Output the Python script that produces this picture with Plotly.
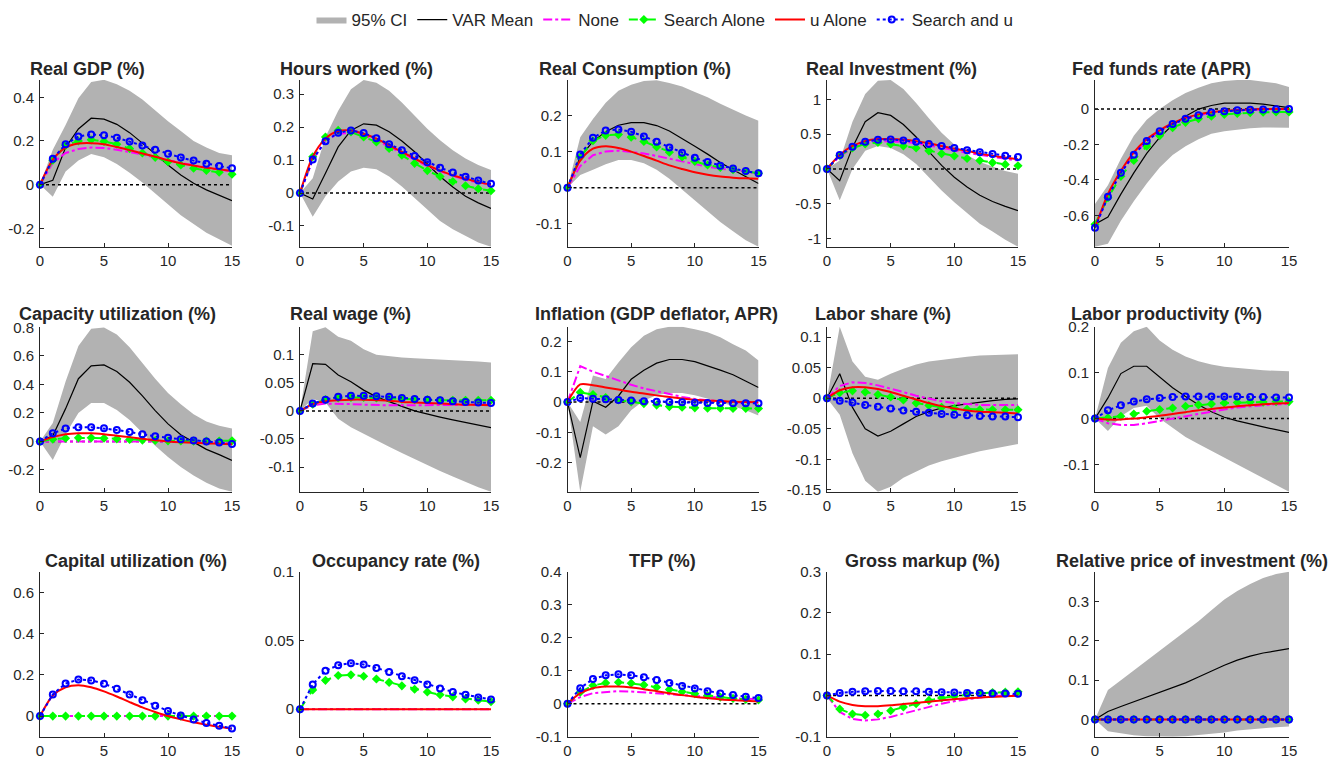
import plotly.graph_objects as go

# ---------------- data ----------------
horizon = [0, 1, 2, 3, 4, 5, 6, 7, 8, 9, 10, 11, 12, 13, 14, 15]
x_ticks = [0, 5, 10, 15]

# Real GDP
gdp_ci_lo = [0, -0.055, 0.06, 0.11, 0.14, 0.125, 0.095, 0.055, 0.01, -0.04, -0.09, -0.14, -0.18, -0.22, -0.25, -0.28]
gdp_ci_hi = [0, 0.16, 0.273, 0.395, 0.47, 0.48, 0.46, 0.43, 0.39, 0.34, 0.29, 0.245, 0.2, 0.17, 0.145, 0.135]
gdp_var = [0, 0.02, 0.17, 0.255, 0.304, 0.30, 0.276, 0.238, 0.19, 0.139, 0.09, 0.044, 0.006, -0.024, -0.05, -0.073]
gdp_none = [0, 0.1, 0.145, 0.163, 0.17, 0.168, 0.16, 0.15, 0.138, 0.125, 0.112, 0.1, 0.088, 0.078, 0.068, 0.06]
gdp_search = [0, 0.112, 0.18, 0.2, 0.205, 0.198, 0.185, 0.165, 0.145, 0.125, 0.105, 0.09, 0.075, 0.065, 0.057, 0.048]
gdp_u = [0, 0.115, 0.17, 0.188, 0.19, 0.185, 0.172, 0.158, 0.143, 0.128, 0.112, 0.098, 0.087, 0.077, 0.07, 0.062]
gdp_both = [0, 0.118, 0.185, 0.22, 0.23, 0.226, 0.215, 0.197, 0.179, 0.16, 0.142, 0.124, 0.11, 0.096, 0.085, 0.075]

# Hours worked
hrs_ci_lo = [0, -0.072, -0.01, 0.035, 0.065, 0.077, 0.072, 0.05, 0.02, -0.015, -0.05, -0.085, -0.11, -0.13, -0.15, -0.163]
hrs_ci_hi = [0, 0.045, 0.17, 0.25, 0.315, 0.343, 0.335, 0.31, 0.275, 0.235, 0.195, 0.16, 0.13, 0.105, 0.085, 0.07]
hrs_var = [0, -0.018, 0.06, 0.14, 0.19, 0.21, 0.206, 0.186, 0.158, 0.125, 0.088, 0.05, 0.018, -0.01, -0.03, -0.047]
hrs_none = [0, 0.1, 0.16, 0.18, 0.182, 0.175, 0.16, 0.14, 0.12, 0.1, 0.082, 0.066, 0.052, 0.04, 0.032, 0.025]
hrs_search = [0, 0.11, 0.17, 0.19, 0.185, 0.17, 0.155, 0.135, 0.115, 0.09, 0.068, 0.05, 0.035, 0.022, 0.013, 0.007]
hrs_u = [0, 0.11, 0.165, 0.188, 0.19, 0.18, 0.165, 0.145, 0.125, 0.105, 0.085, 0.068, 0.054, 0.043, 0.033, 0.025]
hrs_both = [0, 0.102, 0.157, 0.183, 0.19, 0.182, 0.166, 0.148, 0.13, 0.112, 0.093, 0.077, 0.062, 0.049, 0.038, 0.028]

# Real Consumption
con_ci_lo = [0, 0.035, 0.05, 0.065, 0.077, 0.077, 0.068, 0.05, 0.025, -0.005, -0.035, -0.065, -0.095, -0.12, -0.145, -0.163]
con_ci_hi = [0, 0.14, 0.19, 0.235, 0.268, 0.285, 0.295, 0.297, 0.29, 0.28, 0.265, 0.25, 0.232, 0.215, 0.2, 0.185]
con_var = [0, 0.085, 0.128, 0.155, 0.173, 0.18, 0.18, 0.172, 0.157, 0.137, 0.115, 0.093, 0.07, 0.05, 0.03, 0.012]
con_none = [0, 0.06, 0.09, 0.1, 0.103, 0.1, 0.095, 0.088, 0.08, 0.072, 0.065, 0.058, 0.053, 0.048, 0.044, 0.04]
con_search = [0, 0.085, 0.13, 0.145, 0.147, 0.14, 0.128, 0.113, 0.098, 0.085, 0.073, 0.063, 0.056, 0.05, 0.045, 0.04]
con_u = [0, 0.075, 0.108, 0.115, 0.11, 0.1, 0.088, 0.075, 0.062, 0.052, 0.043, 0.036, 0.031, 0.028, 0.026, 0.025]
con_both = [0, 0.092, 0.138, 0.158, 0.161, 0.155, 0.142, 0.127, 0.111, 0.097, 0.083, 0.071, 0.061, 0.053, 0.046, 0.04]

# Real Investment
inv_ci_lo = [0, -0.45, 0.0, 0.26, 0.33, 0.3, 0.21, 0.07, -0.12, -0.31, -0.48, -0.64, -0.79, -0.9, -1.02, -1.12]
inv_ci_hi = [0, 0.12, 0.68, 1.08, 1.27, 1.28, 1.15, 0.95, 0.73, 0.52, 0.35, 0.2, 0.1, 0.03, -0.03, -0.07]
inv_var = [0, -0.17, 0.31, 0.68, 0.81, 0.77, 0.64, 0.46, 0.25, 0.05, -0.12, -0.26, -0.38, -0.47, -0.54, -0.6]
inv_none = [0, 0.18, 0.3, 0.37, 0.4, 0.4, 0.39, 0.37, 0.34, 0.3, 0.27, 0.23, 0.2, 0.17, 0.14, 0.12]
inv_search = [0, 0.19, 0.3, 0.36, 0.38, 0.36, 0.33, 0.3, 0.26, 0.22, 0.185, 0.15, 0.12, 0.09, 0.065, 0.045]
inv_u = [0, 0.2, 0.33, 0.4, 0.43, 0.43, 0.42, 0.4, 0.37, 0.33, 0.29, 0.26, 0.22, 0.19, 0.165, 0.14]
inv_both = [0, 0.2, 0.32, 0.39, 0.42, 0.425, 0.41, 0.39, 0.36, 0.33, 0.3, 0.27, 0.24, 0.215, 0.19, 0.17]

# Fed funds rate
ffr_ci_lo = [-0.777, -0.76, -0.63, -0.52, -0.42, -0.33, -0.26, -0.21, -0.17, -0.14, -0.125, -0.115, -0.108, -0.104, -0.103, -0.105]
ffr_ci_hi = [-0.536, -0.43, -0.28, -0.15, -0.06, 0.0, 0.05, 0.09, 0.12, 0.145, 0.158, 0.164, 0.164, 0.155, 0.145, 0.125]
ffr_var = [-0.65, -0.61, -0.48, -0.36, -0.25, -0.16, -0.09, -0.04, 0.0, 0.02, 0.033, 0.035, 0.033, 0.028, 0.018, 0.008]
ffr_none = [-0.67, -0.49, -0.36, -0.26, -0.18, -0.125, -0.085, -0.055, -0.035, -0.02, -0.012, -0.007, -0.004, -0.002, -0.001, 0]
ffr_search = [-0.65, -0.5, -0.38, -0.29, -0.21, -0.15, -0.105, -0.075, -0.055, -0.04, -0.03, -0.025, -0.02, -0.018, -0.017, -0.016]
ffr_u = [-0.67, -0.48, -0.35, -0.245, -0.17, -0.12, -0.08, -0.05, -0.03, -0.018, -0.01, -0.005, -0.002, 0, 0, 0]
ffr_both = [-0.67, -0.495, -0.36, -0.258, -0.18, -0.125, -0.085, -0.055, -0.035, -0.02, -0.012, -0.007, -0.004, -0.002, -0.001, 0]

# Capacity utilization
cap_ci_lo = [0, -0.13, 0.05, 0.2, 0.27, 0.27, 0.22, 0.15, 0.06, -0.03, -0.11, -0.18, -0.24, -0.29, -0.33, -0.353]
cap_ci_hi = [0, 0.13, 0.42, 0.67, 0.79, 0.8, 0.75, 0.66, 0.55, 0.44, 0.34, 0.26, 0.19, 0.14, 0.11, 0.09]
cap_var = [0, 0.04, 0.23, 0.44, 0.53, 0.537, 0.49, 0.415, 0.32, 0.216, 0.123, 0.047, -0.005, -0.056, -0.093, -0.133]
cap_none = [0, 0, 0, 0, 0, 0, 0, 0, 0, 0, 0, 0, 0, 0, 0, 0]
cap_search = [0, 0.015, 0.022, 0.025, 0.025, 0.022, 0.018, 0.013, 0.009, 0.006, 0.004, 0.003, 0.002, 0.002, 0.003, 0.004]
cap_u = [0, 0.03, 0.05, 0.057, 0.057, 0.05, 0.04, 0.03, 0.018, 0.008, 0.0, -0.006, -0.01, -0.014, -0.017, -0.02]
cap_both = [0, 0.058, 0.09, 0.1, 0.1, 0.092, 0.08, 0.066, 0.05, 0.036, 0.025, 0.015, 0.007, 0.0, -0.008, -0.019]

# Real wage
wag_ci_lo = [0, 0.021, 0.015, -0.014, -0.029, -0.041, -0.053, -0.064, -0.075, -0.086, -0.097, -0.107, -0.117, -0.127, -0.136, -0.144]
wag_ci_hi = [0, 0.142, 0.149, 0.132, 0.125, 0.11, 0.1, 0.097, 0.095, 0.094, 0.093, 0.092, 0.091, 0.09, 0.088, 0.086]
wag_var = [0, 0.084, 0.083, 0.064, 0.052, 0.037, 0.025, 0.016, 0.008, 0.0, -0.006, -0.011, -0.016, -0.021, -0.025, -0.03]
wag_none = [0, 0.01, 0.013, 0.013, 0.012, 0.011, 0.01, 0.01, 0.01, 0.01, 0.01, 0.01, 0.01, 0.01, 0.011, 0.011]
wag_search = [0, 0.012, 0.02, 0.023, 0.024, 0.024, 0.023, 0.022, 0.021, 0.02, 0.02, 0.019, 0.019, 0.019, 0.019, 0.019]
wag_u = [0, 0.012, 0.017, 0.019, 0.02, 0.02, 0.019, 0.018, 0.016, 0.015, 0.014, 0.013, 0.012, 0.011, 0.011, 0.01]
wag_both = [0, 0.013, 0.02, 0.025, 0.027, 0.027, 0.026, 0.025, 0.023, 0.021, 0.02, 0.019, 0.017, 0.016, 0.015, 0.014]

# Inflation
inf_ci_lo = [0, -0.295, -0.08, -0.107, -0.08, -0.027, 0.005, 0.022, 0.03, 0.03, 0.022, 0.011, 0.0, -0.014, -0.027, -0.044]
inf_ci_hi = [0, -0.066, 0.087, 0.076, 0.13, 0.18, 0.218, 0.24, 0.248, 0.248, 0.24, 0.23, 0.213, 0.19, 0.17, 0.137]
inf_var = [0, -0.183, 0.003, -0.017, 0.02, 0.075, 0.105, 0.128, 0.14, 0.14, 0.133, 0.12, 0.105, 0.09, 0.07, 0.048]
inf_none = [0, 0.118, 0.1, 0.085, 0.07, 0.057, 0.045, 0.035, 0.025, 0.017, 0.01, 0.005, 0.002, 0.0, -0.002, -0.003]
inf_search = [0, 0.032, 0.025, 0.015, 0.007, 0.0, -0.005, -0.01, -0.015, -0.017, -0.019, -0.02, -0.02, -0.021, -0.021, -0.021]
inf_u = [0, 0.058, 0.055, 0.048, 0.041, 0.034, 0.028, 0.022, 0.017, 0.012, 0.008, 0.005, 0.003, 0.001, 0.0, -0.001]
inf_both = [0, 0.013, 0.011, 0.009, 0.007, 0.005, 0.003, 0.001, 0.0, -0.001, -0.002, -0.003, -0.003, -0.004, -0.004, -0.004]

# Labor share
lsh_ci_lo = [0, -0.027, -0.09, -0.135, -0.153, -0.145, -0.13, -0.12, -0.11, -0.103, -0.097, -0.092, -0.087, -0.083, -0.079, -0.075]
lsh_ci_hi = [0, 0.117, 0.06, 0.035, 0.03, 0.04, 0.048, 0.055, 0.06, 0.063, 0.066, 0.068, 0.07, 0.071, 0.072, 0.072]
lsh_var = [0, 0.04, -0.015, -0.05, -0.062, -0.054, -0.042, -0.03, -0.022, -0.016, -0.012, -0.009, -0.006, -0.004, -0.002, -0.001]
lsh_none = [0, 0.02, 0.026, 0.025, 0.021, 0.016, 0.01, 0.004, -0.001, -0.005, -0.008, -0.01, -0.011, -0.011, -0.011, -0.011]
lsh_search = [0, 0.009, 0.012, 0.01, 0.006, 0.002, -0.003, -0.008, -0.012, -0.015, -0.017, -0.018, -0.019, -0.019, -0.019, -0.019]
lsh_u = [0, 0.013, 0.018, 0.018, 0.015, 0.01, 0.004, -0.002, -0.008, -0.013, -0.017, -0.02, -0.022, -0.023, -0.024, -0.025]
lsh_both = [0, -0.004, -0.007, -0.011, -0.014, -0.017, -0.02, -0.022, -0.024, -0.026, -0.027, -0.028, -0.029, -0.03, -0.03, -0.031]

# Labor productivity
lpr_ci_lo = [0, -0.027, 0.005, 0.023, 0.028, 0.0, -0.02, -0.04, -0.055, -0.07, -0.085, -0.1, -0.115, -0.13, -0.145, -0.159]
lpr_ci_hi = [0, 0.11, 0.165, 0.19, 0.2, 0.17, 0.15, 0.135, 0.125, 0.118, 0.113, 0.11, 0.107, 0.105, 0.104, 0.103]
lpr_var = [0, 0.045, 0.098, 0.114, 0.114, 0.09, 0.067, 0.048, 0.03, 0.015, 0.003, -0.005, -0.012, -0.018, -0.024, -0.03]
lpr_none = [0, -0.01, -0.014, -0.014, -0.01, -0.005, 0.0, 0.005, 0.011, 0.016, 0.02, 0.024, 0.027, 0.029, 0.031, 0.032]
lpr_search = [0, 0.002, 0.005, 0.01, 0.016, 0.02, 0.023, 0.027, 0.03, 0.032, 0.034, 0.035, 0.036, 0.036, 0.037, 0.037]
lpr_u = [0, -0.002, -0.002, 0.0, 0.003, 0.006, 0.01, 0.014, 0.018, 0.021, 0.024, 0.027, 0.029, 0.031, 0.033, 0.034]
lpr_both = [0, 0.018, 0.029, 0.037, 0.042, 0.045, 0.047, 0.048, 0.048, 0.048, 0.048, 0.048, 0.047, 0.047, 0.046, 0.046]

# Capital utilization (model only)
kut_none = [0, 0, 0, 0, 0, 0, 0, 0, 0, 0, 0, 0, 0, 0, 0, 0]
kut_search = [0, 0, 0, 0, 0, 0, 0, 0, 0, 0, 0, 0, 0, 0, 0, 0]
kut_u = [0, 0.1, 0.14, 0.15, 0.14, 0.12, 0.095, 0.068, 0.042, 0.02, 0.0, -0.016, -0.03, -0.042, -0.052, -0.062]
kut_both = [0, 0.105, 0.158, 0.177, 0.173, 0.157, 0.132, 0.105, 0.077, 0.05, 0.025, 0.003, -0.016, -0.033, -0.047, -0.06]

# Occupancy rate (model only)
occ_none = [0, 0, 0, 0, 0, 0, 0, 0, 0, 0, 0, 0, 0, 0, 0, 0]
occ_search = [0, 0.014, 0.021, 0.0245, 0.025, 0.024, 0.022, 0.0195, 0.017, 0.0145, 0.0125, 0.0105, 0.009, 0.0075, 0.0065, 0.0055]
occ_u = [0, 0, 0, 0, 0, 0, 0, 0, 0, 0, 0, 0, 0, 0, 0, 0]
occ_both = [0, 0.018, 0.028, 0.032, 0.0335, 0.0325, 0.03, 0.027, 0.024, 0.021, 0.018, 0.015, 0.0125, 0.0105, 0.0085, 0.007]

# TFP (model only)
tfp_none = [0, 0.02, 0.032, 0.036, 0.038, 0.037, 0.035, 0.032, 0.029, 0.026, 0.023, 0.02, 0.018, 0.016, 0.015, 0.014]
tfp_search = [0, 0.035, 0.055, 0.063, 0.065, 0.062, 0.057, 0.05, 0.043, 0.036, 0.03, 0.025, 0.02, 0.016, 0.013, 0.011]
tfp_u = [0, 0.032, 0.047, 0.052, 0.052, 0.049, 0.044, 0.038, 0.032, 0.026, 0.021, 0.017, 0.013, 0.011, 0.009, 0.007]
tfp_both = [0, 0.047, 0.075, 0.086, 0.089, 0.086, 0.08, 0.072, 0.063, 0.054, 0.046, 0.038, 0.031, 0.026, 0.021, 0.017]

# Gross markup (model only)
mku_none = [0, -0.04, -0.057, -0.061, -0.058, -0.052, -0.044, -0.036, -0.028, -0.02, -0.014, -0.009, -0.005, -0.002, 0.0, 0.002]
mku_search = [0, -0.033, -0.045, -0.048, -0.045, -0.037, -0.028, -0.02, -0.012, -0.006, -0.002, 0.002, 0.005, 0.007, 0.008, 0.009]
mku_u = [0, -0.015, -0.023, -0.026, -0.026, -0.024, -0.021, -0.018, -0.015, -0.012, -0.009, -0.007, -0.005, -0.003, -0.002, -0.001]
mku_both = [0, 0.006, 0.009, 0.01, 0.011, 0.011, 0.01, 0.01, 0.009, 0.008, 0.007, 0.006, 0.006, 0.005, 0.005, 0.004]

# Relative price of investment
rpi_ci_lo = [0, -0.03, -0.035, -0.04, -0.043, -0.044, -0.044, -0.043, -0.04, -0.037, -0.033, -0.028, -0.025, -0.022, -0.02, -0.018]
rpi_ci_hi = [0, 0.075, 0.1, 0.125, 0.15, 0.175, 0.2, 0.225, 0.25, 0.278, 0.305, 0.327, 0.345, 0.36, 0.37, 0.376]
rpi_var = [0, 0.02, 0.033, 0.045, 0.056, 0.067, 0.079, 0.093, 0.108, 0.124, 0.138, 0.151, 0.161, 0.169, 0.175, 0.18]
rpi_none = [0, 0, 0, 0, 0, 0, 0, 0, 0, 0, 0, 0, 0, 0, 0, 0]
rpi_search = [0, 0, 0, 0, 0, 0, 0, 0, 0, 0, 0, 0, 0, 0, 0, 0]
rpi_u = [0, 0, 0, 0, 0, 0, 0, 0, 0, 0, 0, 0, 0, 0, 0, 0]
rpi_both = [0, 0, 0, 0, 0, 0, 0, 0, 0, 0, 0, 0, 0, 0, 0, 0]

titles = ["Real GDP (%)", "Hours worked (%)", "Real Consumption (%)", "Real Investment (%)",
          "Fed funds rate (APR)", "Capacity utilization (%)", "Real wage (%)",
          "Inflation (GDP deflator, APR)", "Labor share (%)", "Labor productivity (%)",
          "Capital utilization (%)", "Occupancy rate (%)", "TFP (%)", "Gross markup (%)",
          "Relative price of investment (%)"]

y_tick_sets = [
    [-0.2, 0, 0.2, 0.4], [-0.1, 0, 0.1, 0.2, 0.3], [-0.1, 0, 0.1, 0.2], [-1, -0.5, 0, 0.5, 1],
    [-0.6, -0.4, -0.2, 0],
    [-0.2, 0, 0.2, 0.4, 0.6, 0.8], [-0.1, -0.05, 0, 0.05, 0.1], [-0.2, -0.1, 0, 0.1, 0.2],
    [-0.15, -0.1, -0.05, 0, 0.05, 0.1], [-0.1, 0, 0.1, 0.2],
    [0, 0.2, 0.4, 0.6], [0, 0.05, 0.1], [-0.1, 0, 0.1, 0.2, 0.3, 0.4], [-0.1, 0, 0.1, 0.2, 0.3],
    [0, 0.1, 0.2, 0.3],
]

series = [
    (gdp_ci_lo, gdp_ci_hi, gdp_var, gdp_none, gdp_search, gdp_u, gdp_both),
    (hrs_ci_lo, hrs_ci_hi, hrs_var, hrs_none, hrs_search, hrs_u, hrs_both),
    (con_ci_lo, con_ci_hi, con_var, con_none, con_search, con_u, con_both),
    (inv_ci_lo, inv_ci_hi, inv_var, inv_none, inv_search, inv_u, inv_both),
    (ffr_ci_lo, ffr_ci_hi, ffr_var, ffr_none, ffr_search, ffr_u, ffr_both),
    (cap_ci_lo, cap_ci_hi, cap_var, cap_none, cap_search, cap_u, cap_both),
    (wag_ci_lo, wag_ci_hi, wag_var, wag_none, wag_search, wag_u, wag_both),
    (inf_ci_lo, inf_ci_hi, inf_var, inf_none, inf_search, inf_u, inf_both),
    (lsh_ci_lo, lsh_ci_hi, lsh_var, lsh_none, lsh_search, lsh_u, lsh_both),
    (lpr_ci_lo, lpr_ci_hi, lpr_var, lpr_none, lpr_search, lpr_u, lpr_both),
    (None, None, None, kut_none, kut_search, kut_u, kut_both),
    (None, None, None, occ_none, occ_search, occ_u, occ_both),
    (None, None, None, tfp_none, tfp_search, tfp_u, tfp_both),
    (None, None, None, mku_none, mku_search, mku_u, mku_both),
    (rpi_ci_lo, rpi_ci_hi, rpi_var, rpi_none, rpi_search, rpi_u, rpi_both),
]

# ---------------- layout (page pixels) ----------------
W, H = 1344, 759

def px_x(p):
    return p / W

def px_y(p):
    return 1 - p / H

col_left = [40, 300, 567.5, 827, 1095]
col_width = [192, 191, 191, 191, 194]
row_top = [80, 326.7, 571.7]
row_bottom = [246.7, 491.7, 736.7]
y_ranges = [
    [-0.284, 0.479], [-0.163, 0.343], [-0.163, 0.298], [-1.12, 1.28], [-0.777, 0.164],
    [-0.353, 0.805], [-0.144, 0.15], [-0.295, 0.248], [-0.153, 0.117], [-0.159, 0.2],
    [-0.1, 0.7], [-0.02, 0.1], [-0.1, 0.4], [-0.1, 0.3], [-0.044, 0.376],
]
# title anchors: (x px, anchor, y px)
title_pos = [
    (28, "left", 69), (278, "left", 69), (537, "left", 69), (804, "left", 69), (1070, "left", 69),
    (17, "left", 314), (288, "left", 314), (533, "left", 314), (813, "left", 314), (1069, "left", 314),
    (136, "center", 561), (395.5, "center", 561), (662.5, "center", 561), (922.5, "center", 561),
    (1192, "center", 561),
]

FONT = "Liberation Sans, Arial, Helvetica, sans-serif"
AX = "#262626"
GRAY = "rgb(178,178,178)"

fig = go.Figure()
layout = dict(
    width=W, height=H, autosize=False,
    margin=dict(l=0, r=0, t=0, b=0, pad=0, autoexpand=False),
    paper_bgcolor="white", plot_bgcolor="white",
    font=dict(family=FONT, size=15, color=AX),
    showlegend=True,
    legend=dict(orientation="h", x=px_x(665), xanchor="center", y=px_y(20), yanchor="middle",
                font=dict(family=FONT, size=17, color="#262626"), bgcolor="rgba(0,0,0,0)",
                itemwidth=30, tracegroupgap=0, traceorder="normal"),
    annotations=[],
)

def fmt(v):
    return f"{v:g}"

for i in range(15):
    r, c = divmod(i, 5)
    k = i + 1
    xa = f"x{k}" if k > 1 else "x"
    ya = f"y{k}" if k > 1 else "y"
    lo, hi, var, none, search, u, both = series[i]
    first = (i == 0)

    if lo is not None:
        fig.add_trace(go.Scatter(x=horizon, y=lo, mode="lines", line=dict(width=0, color=GRAY),
                                 showlegend=False, hoverinfo="skip", xaxis=xa, yaxis=ya, cliponaxis=False))
        fig.add_trace(go.Scatter(x=horizon, y=hi, mode="lines", line=dict(width=0, color=GRAY),
                                 fill="tonexty", fillcolor=GRAY, name="95% CI", legendgroup="ci",
                                 showlegend=first, xaxis=xa, yaxis=ya, cliponaxis=False))
        fig.add_trace(go.Scatter(x=horizon, y=var, mode="lines", line=dict(width=1.2, color="black"),
                                 name="VAR Mean", legendgroup="var", showlegend=first,
                                 xaxis=xa, yaxis=ya, cliponaxis=False))
    # zero reference line
    fig.add_trace(go.Scatter(x=[horizon[0], horizon[-1]], y=[0, 0], mode="lines",
                             line=dict(width=1.5, color="black", dash="dot"), showlegend=False,
                             hoverinfo="skip", xaxis=xa, yaxis=ya, cliponaxis=False))
    fig.add_trace(go.Scatter(x=horizon, y=none, mode="lines",
                             line=dict(width=2, color="#FF00FF", dash="dashdot"),
                             name="None", legendgroup="none", showlegend=first,
                             xaxis=xa, yaxis=ya, cliponaxis=False))
    fig.add_trace(go.Scatter(x=horizon, y=search, mode="lines+markers",
                             line=dict(width=2, color="#00FF00", dash="dash"),
                             marker=dict(symbol="diamond", size=7, color="#00FF00"),
                             name="Search Alone", legendgroup="search", showlegend=first,
                             xaxis=xa, yaxis=ya, cliponaxis=False))
    fig.add_trace(go.Scatter(x=horizon, y=u, mode="lines",
                             line=dict(width=2, color="#FF0000", shape="spline", smoothing=0.8),
                             name="u Alone", legendgroup="u", showlegend=first,
                             xaxis=xa, yaxis=ya, cliponaxis=False))
    fig.add_trace(go.Scatter(x=horizon, y=both, mode="lines+markers",
                             line=dict(width=2, color="#0000FF", dash="dot"),
                             marker=dict(symbol="circle-open", size=6, color="#0000FF",
                                         line=dict(width=2, color="#0000FF")),
                             name="Search and u", legendgroup="both", showlegend=first,
                             xaxis=xa, yaxis=ya, cliponaxis=False))

    yt = y_tick_sets[i]
    layout["xaxis" + (str(k) if k > 1 else "")] = dict(
        domain=[px_x(col_left[c]), px_x(col_left[c] + col_width[c])], anchor=ya,
        range=[horizon[0], horizon[-1]],
        tickvals=x_ticks, ticktext=[fmt(v) for v in x_ticks],
        showline=True, linecolor=AX, linewidth=1, ticks="inside", ticklen=4, tickcolor=AX,
        showgrid=False, zeroline=False, automargin=False,
        tickfont=dict(family=FONT, size=15, color=AX), fixedrange=True)
    layout["yaxis" + (str(k) if k > 1 else "")] = dict(
        domain=[px_y(row_bottom[r]), px_y(row_top[r])], anchor=xa, range=y_ranges[i],
        tickvals=yt, ticktext=[fmt(v) for v in yt],
        showline=True, linecolor=AX, linewidth=1, ticks="inside", ticklen=4, tickcolor=AX,
        showgrid=False, zeroline=False, automargin=False,
        tickfont=dict(family=FONT, size=15, color=AX), ticklabelstandoff=2, fixedrange=True)
    tx, anc, ty = title_pos[i]
    layout["annotations"].append(dict(
        text="<b>" + titles[i] + "</b>", x=px_x(tx), y=px_y(ty), xref="paper", yref="paper",
        xanchor=anc, yanchor="middle", showarrow=False,
        font=dict(family=FONT, size=18, color="#262626")))

fig.update_layout(**layout)
fig.write_html("out.html")
